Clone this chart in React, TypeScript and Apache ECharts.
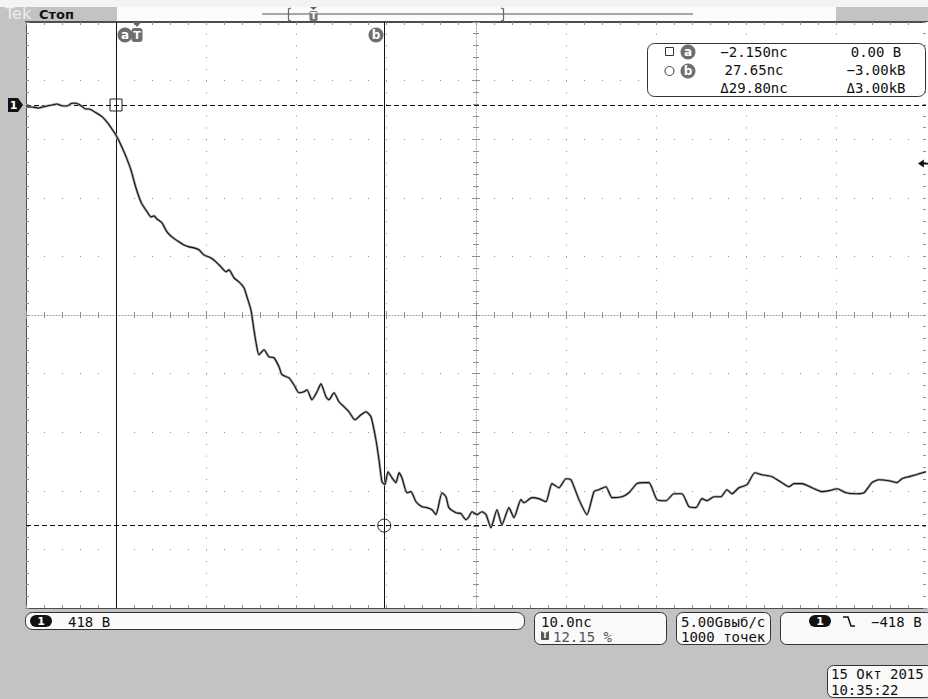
import React, { useEffect, useRef } from "react";
import * as echarts from "echarts";

// Channel 1 trace: [time (ns), voltage (kV)]
const trace: [number, number][] = [
  [-12.15, -0.012], [-11.49, -0.014], [-10.71, -0.021], [-10.16, -0.012], [-9.27, 0.0],
  [-8.71, 0.007], [-8.16, -0.005], [-7.6, -0.007], [-7.04, 0.012], [-6.6, 0.012],
  [-6.04, -0.005], [-5.49, -0.029], [-5.16, -0.029], [-4.38, -0.055], [-3.71, -0.083],
  [-3.16, -0.121], [-2.6, -0.171], [-2.16, -0.214], [-1.6, -0.285], [-1.04, -0.368],
  [-0.49, -0.463], [0.07, -0.592], [0.68, -0.7], [1.29, -0.76], [1.73, -0.798],
  [2.07, -0.791], [2.4, -0.813], [2.96, -0.841], [3.51, -0.905], [4.07, -0.941],
  [4.84, -0.976], [5.4, -0.998], [5.96, -1.012], [6.51, -1.019], [7.07, -1.033],
  [7.62, -1.069], [8.4, -1.091], [8.96, -1.119], [9.51, -1.155], [10.07, -1.19],
  [10.4, -1.176], [10.96, -1.233], [11.51, -1.262], [12.07, -1.304], [12.4, -1.368],
  [12.84, -1.461], [13.18, -1.604], [13.45, -1.71], [13.73, -1.782], [14.29, -1.746],
  [14.84, -1.796], [15.4, -1.803], [15.96, -1.867], [16.29, -1.924], [17.07, -1.946],
  [17.62, -1.996], [18.18, -2.053], [18.73, -2.046], [19.07, -2.031], [19.62, -2.103],
  [20.18, -2.046], [20.62, -1.989], [21.18, -2.081], [21.51, -2.103], [22.07, -2.053],
  [22.62, -2.117], [23.18, -2.152], [23.73, -2.188], [24.4, -2.245], [25.07, -2.21],
  [25.62, -2.188], [26.18, -2.224], [26.73, -2.388], [27.07, -2.53], [27.4, -2.687],
  [27.73, -2.708], [28.07, -2.616], [28.51, -2.659], [28.96, -2.694], [29.29, -2.623],
  [29.62, -2.659], [30.18, -2.766], [30.62, -2.758], [31.18, -2.83], [31.84, -2.865],
  [32.4, -2.872], [32.96, -2.887], [33.4, -2.922], [34.07, -2.766], [34.51, -2.794],
  [34.84, -2.872], [35.62, -2.908], [36.18, -2.915], [36.73, -2.958], [37.07, -2.937],
  [37.4, -2.901], [37.96, -2.922], [38.51, -2.901], [38.96, -2.922], [39.51, -3.015],
  [40.18, -2.887], [40.73, -2.994], [41.51, -2.872], [42.07, -2.944], [42.84, -2.815],
  [43.18, -2.837], [44.07, -2.801], [44.84, -2.808], [45.62, -2.83], [46.29, -2.701],
  [47.07, -2.73], [47.84, -2.666], [48.4, -2.673], [49.29, -2.815], [50.18, -2.922],
  [50.96, -2.758], [51.51, -2.744], [52.29, -2.723], [52.96, -2.801], [54.07, -2.794],
  [54.84, -2.766], [55.73, -2.701], [56.51, -2.694], [57.07, -2.694], [57.96, -2.815],
  [58.96, -2.823], [59.84, -2.773], [60.73, -2.773], [61.51, -2.865], [62.29, -2.872],
  [62.96, -2.808], [63.51, -2.823], [64.29, -2.794], [65.07, -2.794], [65.73, -2.744],
  [66.29, -2.773], [67.07, -2.73], [67.96, -2.708], [68.84, -2.623], [69.62, -2.637],
  [70.73, -2.651], [71.84, -2.694], [72.62, -2.723], [73.18, -2.701], [74.07, -2.701],
  [75.18, -2.73], [76.29, -2.758], [77.07, -2.751], [77.96, -2.737], [78.96, -2.766],
  [80.07, -2.773], [80.96, -2.766], [81.84, -2.694], [82.62, -2.673], [83.73, -2.68],
  [84.62, -2.694], [85.18, -2.666], [85.96, -2.651], [86.73, -2.637], [87.85, -2.616],
];

const xRangeNs = [-12.15, 87.85];
const yRangeKV = [-3.588, 0.592];
const divRange = [-5, 5];
const cursorTimesNs = [-2.15, 27.65];
const cursorVoltsKV = [0, -3.0];
const triggerLevelKV = -0.418;

const measCol1 = ["−2.150nc", "27.65nc", "Δ29.80nc"];
const measCol2 = ["0.00 В", "−3.00kВ", "Δ3.00kВ"];
const chScale = "418 В";
const timeScale = "10.0nc";
const trigPos = "12.15 %";
const sampleRate = "5.00Gвыб/с";
const recordLen = "1000 точек";
const trigLevelText = "−418 В";
const dateText = "15 Окт 2015";
const timeText = "10:35:22";

const MONO = '14px "DejaVu Sans Mono"';
const DOT = "#8f8f8f";

function txt(text: string, x: number, y: number, o: any = {}) {
  return {
    type: "text",
    x,
    y,
    z: o.z ?? 60,
    silent: true,
    style: {
      text,
      font: o.font || MONO,
      fill: o.fill || "#111",
      textAlign: o.align || "left",
      textVerticalAlign: o.va || "middle",
    },
  };
}

function rrect(x: number, y: number, w: number, h: number, r: any, fill: string, stroke?: string, z = 50) {
  return {
    type: "rect",
    z,
    silent: true,
    shape: { x, y, width: w, height: h, r },
    style: { fill, stroke: stroke || null, lineWidth: 1 },
  };
}

function badge(cx: number, cy: number, letter: string, z = 60) {
  return [
    { type: "circle", z, silent: true, shape: { cx, cy, r: 7.5 }, style: { fill: "#6f6f6f" } },
    txt(letter, cx, cy, { align: "center", font: 'bold 12px "DejaVu Sans"', fill: "#fff", z: z + 1 }),
  ];
}

function pill(x: number, y: number, z = 60) {
  return [
    rrect(x, y, 22, 12, 6, "#111", undefined, z),
    txt("1", x + 11, y + 6, { align: "center", font: 'bold 11px "DejaVu Sans"', fill: "#fff", z: z + 1 }),
  ];
}

function edgeAxis(dim: "x" | "y", pos: string, withSplit: boolean, withLine: boolean) {
  return {
    gridIndex: 1,
    type: "value",
    min: divRange[0],
    max: divRange[1],
    interval: 1,
    position: pos,
    axisLine: { show: withLine, onZero: false, lineStyle: { color: "#4d4d4d", width: 1 } },
    axisTick: { show: true, inside: true, length: 3, lineStyle: { color: DOT } },
    minorTick: { show: true, splitNumber: 5, length: 3, lineStyle: { color: DOT } },
    axisLabel: { show: false },
    splitLine: {
      show: withSplit,
      lineStyle: { color: DOT, width: 1, type: dim === "x" ? [1, 10.72] : [1, 17] },
    },
  };
}

function centerAxis(pos: string, zeroIndex: number, withLine: boolean) {
  return {
    gridIndex: 2,
    type: "value",
    min: divRange[0],
    max: divRange[1],
    interval: 1,
    position: pos,
    axisLine: {
      show: withLine,
      onZero: true,
      onZeroAxisIndex: zeroIndex,
      lineStyle: { color: "#a0a0a0", width: 1, type: [1, 2] },
    },
    axisTick: { show: true, inside: true, length: 4, lineStyle: { color: DOT } },
    minorTick: { show: true, splitNumber: 5, length: 3, lineStyle: { color: DOT } },
    axisLabel: { show: false },
    splitLine: { show: false },
  };
}

export default function App() {
  const ref = useRef<HTMLDivElement>(null);

  useEffect(() => {
    if (!ref.current) return;
    const chart = echarts.init(ref.current, undefined, { renderer: "svg" });
    const gridRect = { left: 26, top: 22, width: 900, height: 586 };

    const graphic: any[] = [
      // top strips
      rrect(0, 0, 928, 7, 0, "#f3f3f3", undefined, 1),
      rrect(117, 7, 719, 14, 0, "#fbfbfb", undefined, 1),
      rrect(926, 22, 2, 586, 0, "#ffffff", undefined, 1),
      { type: "line", z: 2, silent: true, shape: { x1: 25, y1: 21.5, x2: 928, y2: 21.5 }, style: { stroke: "#4d4d4d", lineWidth: 1 } },
      txt("Tek", 5, 21, { font: '16px "DejaVu Sans"', fill: "#ececf4", va: "bottom", z: 3 }),
      txt("Стоп", 39, 14.5, { font: 'bold 13px "DejaVu Sans"', fill: "#111", z: 3 }),
      // record timeline
      { type: "line", z: 3, silent: true, shape: { x1: 262, y1: 14, x2: 693, y2: 14 }, style: { stroke: "#555", lineWidth: 1.2 } },
      { type: "polyline", z: 3, silent: true, shape: { points: [[291, 8], [288.5, 9], [288.5, 20], [291, 21]] }, style: { stroke: "#666", lineWidth: 1.2, fill: null } },
      { type: "polyline", z: 3, silent: true, shape: { points: [[501, 8], [503.5, 9], [503.5, 20], [501, 21]] }, style: { stroke: "#666", lineWidth: 1.2, fill: null } },
      { type: "polygon", z: 3, silent: true, shape: { points: [[310, 7], [317, 7], [313.5, 10]] }, style: { fill: "#666" } },
      rrect(309.5, 11, 8, 10, 1.5, "#777", undefined, 3),
      txt("T", 313.5, 16, { align: "center", font: 'bold 9px "DejaVu Sans"', fill: "#fff", z: 4 }),
      // cursor / trigger labels on top of plot
      { type: "polygon", z: 60, silent: true, shape: { points: [[132.5, 22], [141.5, 22], [137, 27]] }, style: { fill: "#666" } },
      ...badge(125, 35, "a"),
      rrect(131.5, 28, 11, 14, 3, "#6f6f6f", undefined, 60),
      txt("T", 137, 35, { align: "center", font: 'bold 11px "DejaVu Sans"', fill: "#fff", z: 61 }),
      ...badge(376, 35, "b"),
      // channel 1 ground marker
      { type: "polygon", z: 60, silent: true, shape: { points: [[8, 98], [18, 98], [23, 105], [18, 112], [8, 112]] }, style: { fill: "#111" } },
      txt("1", 13.5, 105.5, { align: "center", font: 'bold 11px "DejaVu Sans"', fill: "#fff", z: 61 }),
      // measurement readout
      rrect(647.5, 43.5, 278, 53, 7, "#ffffff", "#333", 50),
      rrect(665.5, 47.5, 8, 8, 0, "#ffffff", "#333", 60),
      ...badge(688, 52, "a"),
      { type: "circle", z: 60, silent: true, shape: { cx: 669.5, cy: 71, r: 4.5 }, style: { fill: "#fff", stroke: "#333", lineWidth: 1 } },
      ...badge(688, 71, "b"),
      ...measCol1.map((s, i) => txt(s, 754, 52 + i * 18, { align: "center" })),
      ...measCol2.map((s, i) => txt(s, 876, 52 + i * 18, { align: "center" })),
      // bottom status boxes
      rrect(25.5, 612.5, 499, 17, 7, "#fafafa", "#333", 50),
      ...pill(30, 615),
      txt(chScale, 68, 621.5),
      rrect(534.5, 612.5, 132, 32, 6, "#fafafa", "#333", 50),
      txt(timeScale, 541, 621.5),
      rrect(541, 631, 8, 9, 1, "#555", undefined, 60),
      txt("T", 545, 635.5, { align: "center", font: 'bold 8px "DejaVu Sans"', fill: "#fff", z: 61 }),
      txt(trigPos, 553, 637, { fill: "#555" }),
      rrect(676.5, 612.5, 94, 32, 6, "#fafafa", "#333", 50),
      txt(sampleRate, 681, 621.5),
      txt(recordLen, 681, 637),
      rrect(780.5, 612.5, 152, 32, 6, "#fafafa", "#333", 50),
      ...pill(809, 615),
      { type: "polyline", z: 60, silent: true, shape: { points: [[843, 617], [848, 617], [851, 626], [855, 626]] }, style: { stroke: "#111", lineWidth: 1.5, fill: null } },
      txt(trigLevelText, 871, 621.5),
      rrect(827.5, 665.5, 105, 32, 6, "#fafafa", "#333", 50),
      txt(dateText, 831, 674),
      txt(timeText, 831, 689.5),
    ];

    const halo = {
      type: "line",
      xAxisIndex: 0,
      yAxisIndex: 0,
      data: trace,
      showSymbol: false,
      silent: true,
      smooth: 0.2,
      z: 5,
      lineStyle: { color: "#a8a8a8", width: 2.6 },
    };

    const main = {
      type: "line",
      xAxisIndex: 0,
      yAxisIndex: 0,
      data: trace,
      showSymbol: false,
      silent: true,
      smooth: 0.2,
      z: 6,
      lineStyle: { color: "#141414", width: 1.1 },
      markLine: {
        silent: true,
        symbol: ["none", "none"],
        label: { show: false },
        data: [
          ...cursorTimesNs.map((t) => ({ xAxis: t, lineStyle: { color: "#111", width: 1, type: "solid" } })),
          ...cursorVoltsKV.map((v) => ({ yAxis: v, lineStyle: { color: "#111", width: 1, type: [5, 3] } })),
        ],
      },
      markPoint: {
        silent: true,
        label: { show: false },
        data: [
          {
            coord: [cursorTimesNs[0], cursorVoltsKV[0]],
            symbol: "rect",
            symbolSize: 12,
            itemStyle: { color: "rgba(255,255,255,0)", borderColor: "#222", borderWidth: 1 },
          },
          {
            coord: [cursorTimesNs[1], cursorVoltsKV[1]],
            symbol: "circle",
            symbolSize: 13,
            itemStyle: { color: "rgba(255,255,255,0)", borderColor: "#222", borderWidth: 1 },
          },
          {
            coord: [xRangeNs[1], triggerLevelKV],
            symbol: "path://M0,5 L7,0 L7,4 L12,4 L12,6 L7,6 L7,10 Z",
            symbolSize: [10, 8],
            symbolOffset: [-3, 0],
            itemStyle: { color: "#111" },
          },
        ],
      },
    };

    chart.setOption({
      animation: false,
      backgroundColor: "#c3c3c3",
      grid: [
        { ...gridRect, show: true, backgroundColor: "#ffffff", borderWidth: 0 },
        { ...gridRect, show: false },
        { ...gridRect, show: false },
      ],
      xAxis: [
        { gridIndex: 0, type: "value", min: xRangeNs[0], max: xRangeNs[1], show: false, position: "bottom" },
        edgeAxis("x", "top", true, true),
        edgeAxis("x", "bottom", false, true),
        centerAxis("bottom", 3, true),
        centerAxis("top", 3, false),
      ],
      yAxis: [
        { gridIndex: 0, type: "value", min: yRangeKV[0], max: yRangeKV[1], show: false, position: "left" },
        edgeAxis("y", "left", true, true),
        edgeAxis("y", "right", false, false),
        centerAxis("left", 3, true),
        centerAxis("right", 3, false),
      ],
      graphic,
      series: [halo, main],
    });

    return () => chart.dispose();
  }, []);

  return (
    <div
      ref={ref}
      style={{ position: "fixed", left: 0, top: 0, width: 928, height: 699 }}
    />
  );
}
